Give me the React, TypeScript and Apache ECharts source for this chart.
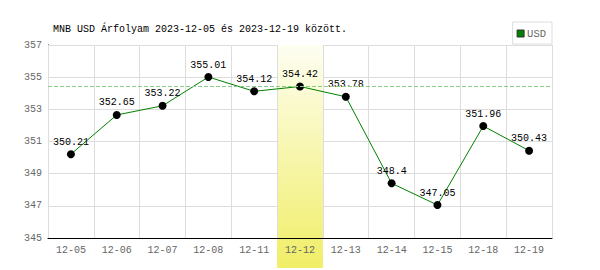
import React, { useEffect, useRef } from "react";
import * as echarts from "echarts";

const categories = ["12-05", "12-06", "12-07", "12-08", "12-11", "12-12", "12-13", "12-14", "12-15", "12-18", "12-19"];
const usdValues = [350.21, 352.65, 353.22, 355.01, 354.12, 354.42, 353.78, 348.4, 347.05, 351.96, 350.43];
const highlightDate = "12-12";
const referenceValue = 354.42;
const yMin = 345;
const yMax = 357;
const yInterval = 2;
const titleText = "MNB USD Árfolyam 2023-12-05 és 2023-12-19 között.";

const FONT = "'Liberation Mono', 'DejaVu Sans Mono', monospace";

export default function App() {
  const ref = useRef<HTMLDivElement>(null);
  useEffect(() => {
    if (!ref.current) return;
    const chart = echarts.init(ref.current, null, { renderer: "svg" });
    chart.setOption({
      animation: false,
      backgroundColor: "#fff",
      title: {
        text: titleText,
        left: 48,
        top: 19,
        textStyle: { fontFamily: FONT, fontSize: 10, fontWeight: "normal", color: "#000" },
      },
      legend: {
        right: 48,
        top: 22,
        orient: "horizontal",
        data: [{ name: "USD", icon: "rect", itemStyle: { color: "#008000", borderColor: "#333", borderWidth: 1 } }],
        itemWidth: 7,
        itemHeight: 7,
        itemGap: 3,
        padding: [6, 6, 5, 4],
        borderColor: "#ddd",
        borderWidth: 1,
        textStyle: { fontFamily: FONT, fontSize: 10.5, color: "#666", padding: [0, 0, 0, -2] },
      },
      grid: [
        { left: 48, right: 48, top: 45, bottom: 32 },
        { left: 48, right: 48, top: 45, bottom: 2 },
      ],
      xAxis: [
        {
          type: "category",
          gridIndex: 0,
          data: categories,
          boundaryGap: true,
          z: 3,
          axisLine: { lineStyle: { color: "#000", width: 1 } },
          axisTick: { show: false },
          axisLabel: { fontFamily: FONT, fontSize: 10, color: "#666", margin: 7, interval: 0 },
          splitLine: { show: true, interval: 0, lineStyle: { color: "#ddd", width: 1 } },
        },
        {
          type: "category",
          gridIndex: 1,
          data: categories,
          boundaryGap: true,
          show: false,
        },
      ],
      yAxis: [
        {
          type: "value",
          gridIndex: 0,
          min: yMin,
          max: yMax,
          interval: yInterval,
          axisLine: { show: true, lineStyle: { color: "#000", width: 1 } },
          axisTick: { show: false },
          axisLabel: { fontFamily: FONT, fontSize: 10, color: "#666", margin: 6 },
          splitLine: { show: true, lineStyle: { color: "#ddd", width: 1 } },
        },
        { type: "value", gridIndex: 1, min: 0, max: 1, show: false },
      ],
      series: [
        {
          type: "bar",
          xAxisIndex: 1,
          yAxisIndex: 1,
          silent: true,
          z: 1,
          barWidth: "100%",
          data: categories.map((c) => (c === highlightDate ? 1 : "-")),
          itemStyle: {
            color: new echarts.graphic.LinearGradient(0, 0, 0, 1, [
              { offset: 0, color: "#fefef2" },
              { offset: 1, color: "#f0ee66" },
            ]),
          },
        },
        {
          name: "USD",
          type: "line",
          xAxisIndex: 0,
          yAxisIndex: 0,
          z: 4,
          data: usdValues,
          symbol: "circle",
          symbolSize: 8,
          itemStyle: { color: "#000" },
          lineStyle: { color: "#008000", width: 1 },
          label: {
            show: true,
            position: "top",
            distance: 3,
            fontFamily: FONT,
            fontSize: 10,
            color: "#000",
          },
          markLine: {
            silent: true,
            symbol: "none",
            label: { show: false },
            lineStyle: { color: "#88cc88", type: "dashed", width: 1 },
            data: [{ yAxis: referenceValue }],
          },
        },
      ],
    });
    return () => chart.dispose();
  }, []);
  return <div ref={ref} style={{ position: "fixed", left: 0, top: 0, width: 600, height: 270 }} />;
}
